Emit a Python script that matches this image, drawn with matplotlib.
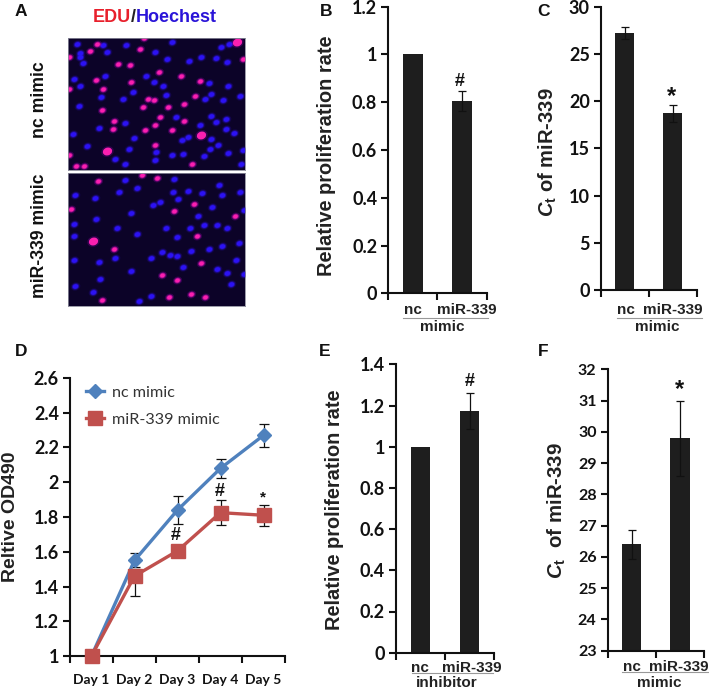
import matplotlib
matplotlib.use('Agg')
import matplotlib.pyplot as plt
from matplotlib.markers import MarkerStyle
from matplotlib.transforms import Affine2D

W, H = 709, 689
TICKF = 'Lato'
LABF = 'Liberation Sans'
plt.rcParams['mathtext.fontset'] = 'custom'
plt.rcParams['mathtext.rm'] = 'Liberation Sans:bold'
plt.rcParams['mathtext.it'] = 'Liberation Sans:italic:bold'
plt.rcParams['mathtext.bf'] = 'Liberation Sans:bold'

# Panel A: nuclei (position in field pixels)
top_edu_x = [432,291,269,420,207,730,353,389,477,543,287,393,600,208,310,585,445,462,429,503,551,306,480,552,343,339,465,434,517,466,207,227,251,575]
top_edu_y = [115,132,152,146,170,178,191,194,216,229,241,245,243,268,266,288,296,301,320,320,312,329,350,363,362,388,375,390,391,435,465,498,497,491]
top_edu_big_x = [711,603,322]
top_edu_big_y = [126,404,454]
top_h_x = [232,310,379,517,662,688,240,320,464,248,240,500,566,602,648,682,316,437,221,239,461,488,400,627,684,303,369,499,632,615,668,720,237,527,634,679,648,375,599,678,703,220,297,402,564,545,632,655,260,388,629,728,684,468,464,515,549,612,344,376,724]
top_h_y = [133,135,135,125,141,133,158,155,157,190,172,177,184,170,175,185,227,227,238,258,247,259,276,250,259,292,298,286,283,298,301,288,317,350,347,358,365,370,376,388,399,401,385,413,410,420,417,434,439,448,448,449,459,455,480,465,461,469,478,493,492]
bot_edu_x = [294,425,470,214,522,583,705,592,343,603,486,531,305,506,573,615]
bot_edu_y = [544,524,533,627,632,611,647,709,748,788,826,840,900,890,882,891]
bot_edu_big_x = [278]
bot_edu_big_y = [723]
bot_h_x = [374,522,412,657,225,284,358,519,564,605,667,721,535,458,479,637,392,731,594,289,223,352,611,650,497,569,681,222,410,530,717,666,627,574,487,510,532,454,346,222,296,709,550,392,652,681,732,301,692,226,279,454,417]
bot_h_y = [540,537,563,554,586,595,577,577,572,580,586,576,596,614,605,622,638,630,648,657,673,684,675,674,683,685,683,707,702,710,730,738,748,752,757,766,769,775,773,780,786,780,802,812,806,819,822,838,851,859,877,888,902]

# Bar panels
bar_cats = ['nc', 'miR-339']
b_vals = [1, 0.805]
b_err = [0, 0.04]
c_vals = [27.2, 18.7]
c_err = [0.6, 0.9]
e_vals = [1, 1.175]
e_err = [0, 0.088]
f_vals = [26.4, 29.8]
f_err = [0.47, 1.2]

# Panel D
days = ['Day 1', 'Day 2', 'Day 3', 'Day 4', 'Day 5']
nc_od = [1, 1.55, 1.84, 2.08, 2.27]
nc_err = [0, 0.04, 0.08, 0.055, 0.065]
mir_od = [1, 1.46, 1.605, 1.825, 1.81]
mir_low = [0, 0.115, 0.03, 0.07, 0.06]
mir_up = [0, 0.04, 0.03, 0.07, 0.06]

fig = plt.figure(figsize=(W / 100, H / 100), dpi=100, facecolor='white')


def make_ax(l, r, t, b):
    return fig.add_axes([l / W, 1 - b / H, (r - l) / W, (b - t) / H])


def ptext(x, y, s, **kw):
    kw.setdefault('ha', 'center')
    kw.setdefault('va', 'center')
    kw.setdefault('family', LABF)
    return fig.text(x / W, 1 - y / H, s, **kw)


def style(ax, yticks, ylabels, ylim, fs=11.5):
    for s in ['top', 'right']:
        ax.spines[s].set_visible(False)
    for s in ['left', 'bottom']:
        ax.spines[s].set_linewidth(1.5)
        ax.spines[s].set_color('#111111')
    ax.set_ylim(*ylim)
    ax.set_yticks(yticks, ylabels, fontsize=fs, fontweight='bold', family=TICKF, color='#111111')
    ax.tick_params(width=1.5, length=5, color='#111111', pad=3)


def bar_panel(box, vals, errs, yticks, ylabels, ylim, fs=11.5):
    ax = make_ax(*box)
    x = [0.5, 1.5]
    ax.bar(x, vals, width=0.4, color='#1e1e1e', zorder=2)
    ex, ey, ee = [], [], []
    for xi, v, e in zip(x, vals, errs):
        if e > 0:
            ex.append(xi); ey.append(v); ee.append(e)
    ax.errorbar(ex, ey, yerr=ee, fmt='none', ecolor='#111111', elinewidth=0.9, capsize=3, capthick=0.9, zorder=3)
    ax.set_xlim(0, 2)
    ax.set_xticks([0, 1, 2], ['', '', ''])
    style(ax, yticks, ylabels, ylim, fs)
    return ax


def under(nc_x, mir_x, lab_y, line_y, x0, x1, group, gx, gy):
    ptext(nc_x, lab_y, bar_cats[0], fontsize=11, fontweight='bold', color='#222222')
    ptext(mir_x, lab_y, bar_cats[1], fontsize=11, fontweight='bold', color='#222222')
    fig.add_artist(plt.Line2D([x0 / W, x1 / W], [1 - line_y / H] * 2, color='#999999', lw=0.8))
    ptext(gx, gy, group, fontsize=11, fontweight='bold', color='#222222')


oval = MarkerStyle('o', transform=Affine2D().scale(1.1, 0.9).rotate_deg(20))
# Panel A
for box, ex, ey, bx, by, hx, hy, ylim in [
    ((67.7, 245.3, 37.7, 170), top_edu_x, top_edu_y, top_edu_big_x, top_edu_big_y, top_h_x, top_h_y, (510, 113)),
    ((67.7, 245.3, 173, 306), bot_edu_x, bot_edu_y, bot_edu_big_x, bot_edu_big_y, bot_h_x, bot_h_y, (918, 519)),
]:
    ax = make_ax(*box)
    ax.set_facecolor('#0c0328')
    ax.set_xlim(203, 736)
    ax.set_ylim(*ylim)
    ax.set_xticks([]); ax.set_yticks([])
    for s in ax.spines.values():
        s.set_color('#8a8a9a'); s.set_linewidth(0.6)
    ax.scatter(hx, hy, s=42, marker=oval, color='#2a10c0', alpha=0.22, lw=0)
    ax.scatter(hx, hy, s=24, marker=oval, color='#2a10d8', alpha=0.6, lw=0)
    ax.scatter(hx, hy, s=13, marker=oval, color='#2c12f4', lw=0)
    ax.scatter(ex, ey, s=38, marker=oval, color='#a000c0', alpha=0.25, lw=0)
    ax.scatter(ex, ey, s=20, marker=oval, color='#e010b0', alpha=0.6, lw=0)
    ax.scatter(ex, ey, s=10, marker=oval, color='#fa20b0', lw=0)
    ax.scatter(bx, by, s=70, marker=oval, color='#a000c0', alpha=0.25, lw=0)
    ax.scatter(bx, by, s=38, marker=oval, color='#fa20b0', lw=0)

ptext(131, 17, 'EDU', ha='right', fontsize=13, fontweight='bold', color='#e8202c')
ptext(133.5, 17, '/', fontsize=13, fontweight='bold', color='#222222')
ptext(136, 17, 'Hoechest', ha='left', fontsize=13, fontweight='bold', color='#2a14d8')
ptext(39, 100, 'nc mimic', rotation=90, fontsize=12.7, fontweight='bold', color='#111111')
ptext(39, 236, 'miR-339 mimic', rotation=90, fontsize=12.7, fontweight='bold', color='#111111')

# Panels B, C, E, F
bar_panel((388.3, 486.7, 6.7, 293.3), b_vals, b_err, [0, .2, .4, .6, .8, 1, 1.2], ['0', '0.2', '0.4', '0.6', '0.8', '1', '1.2'], (0, 1.2), 13)
under(413, 467, 310, 318, 403, 488, 'mimic', 442, 327)
ptext(327, 156, 'Relative proliferation rate', rotation=90, fontsize=14.4, fontweight='bold', color='#222222')
ptext(310 + 449 / 3, 82, '#', fontsize=13, fontweight='bold', color='#111111')

bar_panel((601, 696.7, 6.7, 290), c_vals, c_err, [0, 5, 10, 15, 20, 25, 30], ['0', '5', '10', '15', '20', '25', '30'], (0, 30), 13)
under(625.7, 673, 310, 317.7, 617, 702, 'mimic', 657, 327)
ptext(548, 152, r'$\mathit{C}_{\mathrm{t}}$ of miR-339', rotation=90, fontsize=14.5, fontweight='bold', color='#222222')
ptext(671.5, 97, '*', fontsize=17, fontweight='bold', color='#111111')

bar_panel((396, 494, 364.3, 652.7), e_vals, e_err, [0, .2, .4, .6, .8, 1, 1.2, 1.4], ['0', '0.2', '0.4', '0.6', '0.8', '1', '1.2', '1.4'], (0, 1.4), 13)
under(420, 471.7, 667.7, 672.7, 412, 493, 'inhibitor', 447, 683)
ptext(334, 510, 'Relative proliferation rate', rotation=90, fontsize=14.4, fontweight='bold', color='#222222')
ptext(469.3, 382, '#', fontsize=13, fontweight='bold', color='#111111')

f_t = list(range(23, 33))
bar_panel((607.7, 704, 369.3, 650.7), f_vals, f_err, f_t, [str(t) for t in f_t], (23, 32), 11.5)
under(631.7, 679, 667, 672, 622, 708, 'mimic', 659, 683)
ptext(557, 511, r'$\mathit{C}_{\mathrm{t}}$  of miR-339', rotation=90, fontsize=14.7, fontweight='bold', color='#222222')
ptext(679.5, 390, '*', fontsize=17, fontweight='bold', color='#111111')

# Panel D
ax = make_ax(70, 285, 378, 656)
xs = [i + 0.5 for i in range(5)]
ax.errorbar(xs, nc_od, yerr=nc_err, fmt='none', ecolor='#111111', elinewidth=0.9, capsize=3.5, capthick=0.9, zorder=2)
ax.errorbar(xs, mir_od, yerr=[mir_low, mir_up], fmt='none', ecolor='#111111', elinewidth=0.9, capsize=3.5, capthick=0.9, zorder=2)
l1, = ax.plot(xs, nc_od, color='#4f81bd', lw=2.4, marker='D', ms=7.5, zorder=3, clip_on=False, label='nc mimic')
l2, = ax.plot(xs, mir_od, color='#c0504d', lw=2.4, marker='s', ms=9.5, zorder=3.5, clip_on=False, label='miR-339 mimic')
ax.set_xlim(0, 5)
ax.set_xticks(range(6), [''] * 6)
ax.set_xticks(xs, days, minor=True, fontsize=10, fontweight='bold', family=TICKF, color='#111111')
ax.tick_params(axis='x', which='minor', length=0, pad=13)
yt = [1, 1.2, 1.4, 1.6, 1.8, 2, 2.2, 2.4, 2.6]
style(ax, yt, ['1', '1.2', '1.4', '1.6', '1.8', '2', '2.2', '2.4', '2.6'], (1, 2.6), 13)
ax.legend(handles=[l1, l2], loc='upper left', bbox_to_anchor=(0.06, 0.985), frameon=False,
          prop={'family': TICKF, 'size': 11.6}, labelcolor='#333333', handlelength=1.1,
          handletextpad=0.5, labelspacing=0.8, borderaxespad=0, borderpad=0.2)
ptext(11, 517, 'Reltive OD490', rotation=90, fontsize=14, fontweight='bold', color='#222222')
ptext(176, 536, '#', fontsize=13, fontweight='bold', color='#111111')
ptext(220, 492, '#', fontsize=13, fontweight='bold', color='#111111')
ptext(263, 497, '*', fontsize=11, fontweight='bold', color='#111111')

# Panel letters
for s, x, y in [('A', 21, 12), ('B', 326, 11), ('C', 543, 11), ('D', 21, 352), ('E', 325, 352), ('F', 543, 352)]:
    ptext(x, y, s, fontsize=12.5, fontweight='bold', color='#111111')

fig.savefig('out.png', dpi=100)
